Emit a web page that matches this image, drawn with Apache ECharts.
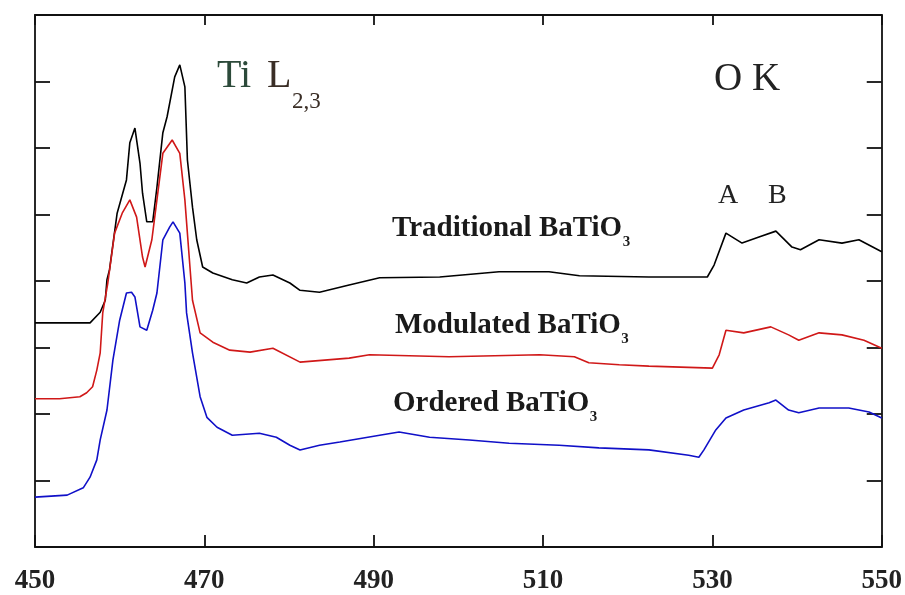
<!DOCTYPE html>
<html>
<head>
<meta charset="utf-8">
<script src="https://cdn.jsdelivr.net/npm/echarts@6/dist/echarts.min.js"></script>
<style>html,body{margin:0;padding:0;background:#fff}#c{width:905px;height:595px}</style>
</head>
<body>
<div id="c"></div>
<script>
// Energy loss (eV) and intensity (arb. units)
var tradX = [450,452.9,456.5,457.7,458.3,458.5,458.8,459.7,460.8,461.2,461.8,462.4,462.7,463.2,463.9,464.4,465.1,465.6,466.5,467.1,467.7,468.0,468.6,469.1,469.8,471.0,473.3,475.0,476.5,478.1,480.1,481.3,483.6,487.1,490.7,497.8,504.8,510.7,514.3,522.5,529.4,530.2,531.6,533.5,535.5,537.5,539.4,540.4,542.6,545.3,547.3,550];
var tradY = [3.37,3.37,3.37,3.53,3.71,4.02,4.17,5.02,5.52,6.08,6.30,5.77,5.32,4.89,4.89,5.41,6.23,6.47,7.07,7.25,6.92,5.82,5.11,4.62,4.21,4.12,4.02,3.97,4.06,4.09,3.97,3.86,3.83,3.94,4.05,4.06,4.14,4.14,4.08,4.06,4.06,4.24,4.72,4.57,4.66,4.75,4.51,4.47,4.62,4.57,4.62,4.44];

var modX = [450,452.9,455.3,456.1,456.8,457.3,457.7,458.0,458.6,459.4,460.3,461.2,462.0,462.7,463.0,463.8,464.4,465.1,466.2,467.1,467.7,468.3,468.6,469.5,471.0,473.0,475.4,478.1,481.3,487.1,489.5,498.9,509.6,513.7,515.4,519.0,522.5,530.0,530.8,531.6,533.7,536.9,539.0,540.2,542.6,545.3,547.9,550];
var modY = [2.23,2.23,2.26,2.32,2.41,2.66,2.92,3.52,3.97,4.72,5.02,5.22,4.96,4.36,4.21,4.62,5.22,5.92,6.12,5.92,5.22,4.21,3.71,3.22,3.08,2.96,2.93,2.99,2.78,2.84,2.89,2.86,2.89,2.86,2.77,2.74,2.72,2.69,2.89,3.26,3.22,3.31,3.19,3.11,3.22,3.19,3.11,2.99];

var ordX = [450,453.8,455.7,456.5,457.3,457.7,458.5,459.2,460.0,460.8,461.4,461.8,462.4,463.2,463.9,464.4,465.1,465.9,466.3,467.1,467.7,467.9,468.6,469.5,470.3,471.5,473.3,476.5,478.5,480.1,481.3,483.6,486.0,490.7,493.0,496.6,501.3,506.0,511.9,516.6,522.5,527.2,528.4,529.0,530.4,531.6,533.7,536.7,537.5,539.0,540.2,542.6,546.1,548.5,550];
var ordY = [0.75,0.78,0.89,1.05,1.31,1.61,2.06,2.81,3.41,3.82,3.83,3.76,3.31,3.26,3.56,3.82,4.62,4.81,4.89,4.72,3.97,3.52,2.92,2.26,1.95,1.80,1.68,1.71,1.65,1.53,1.46,1.53,1.58,1.68,1.73,1.65,1.61,1.56,1.53,1.49,1.46,1.38,1.35,1.46,1.76,1.94,2.06,2.17,2.21,2.06,2.02,2.09,2.09,2.03,1.94];

var xTicks = [450,470,490,510,530,550];

function pairs(xs, ys){ return xs.map(function(x,i){ return [x, ys[i]]; }); }

var serif = '"Liberation Serif","Times New Roman",serif';
var chart = echarts.init(document.getElementById('c'), null, {renderer:'canvas'});

var ctx = document.createElement('canvas').getContext('2d');
function w(text, size, weight){ ctx.font = (weight||'normal') + ' ' + size + 'px ' + serif; return ctx.measureText(text).width; }

// place text so that its capital-letter middle sits at capMid
function txt(x, capMid, text, size, weight, color){
  return {type:'text', left:x, top:Math.round(capMid - 0.45*size),
          style:{text:text, font:(weight||'normal')+' '+size+'px '+serif, fill:color}};
}
function subLabel(x, capMid, main, size, sub, subCapMid, subSize, weight, color){
  var mw = w(main, size, weight);
  return [txt(x, capMid, main, size, weight, color), txt(x+mw+0.5, subCapMid, sub, subSize, weight, color)];
}

var graphics = [];
graphics.push(txt(217, 73.5, 'Ti', 40, 'normal', '#2c4a3a'));
graphics = graphics.concat(subLabel(267, 73.5, 'L', 40, '2,3', 100, 23, 'normal', '#3a2e26'));
graphics.push(txt(714, 77.5, 'O K', 39, 'normal', '#222'));
graphics.push(txt(718, 195, 'A', 28, 'normal', '#222'));
graphics.push(txt(768, 195, 'B', 28, 'normal', '#222'));
graphics = graphics.concat(subLabel(392, 227, 'Traditional BaTiO', 29, '3', 242, 15, 'bold', '#1a1a1a'));
graphics = graphics.concat(subLabel(395, 324, 'Modulated BaTiO', 29, '3', 339, 15, 'bold', '#1a1a1a'));
graphics = graphics.concat(subLabel(393, 402, 'Ordered BaTiO', 29, '3', 417, 15, 'bold', '#1a1a1a'));

var lineSty = {color:'#111', width:1.8};
var axisLine = {show:true, onZero:false, lineStyle:lineSty};
var option = {
  backgroundColor:'#fff',
  animation:false,
  grid:{left:35, right:22, top:15, bottom:48},
  xAxis:[
    {type:'value', min:450, max:550, interval:20, position:'bottom',
     axisLine:axisLine, axisTick:{show:true, inside:true, length:12, lineStyle:lineSty},
     axisLabel:{show:true, margin:21, fontFamily:serif, fontSize:27, fontWeight:'bold', color:'#222',
       formatter:function(v){ return xTicks.indexOf(v) >= 0 ? String(v) : ''; }},
     splitLine:{show:false}},
    {type:'value', min:450, max:550, interval:20, position:'top',
     axisLine:axisLine, axisTick:{show:true, inside:true, length:10, lineStyle:lineSty},
     axisLabel:{show:false}, splitLine:{show:false}}
  ],
  yAxis:[
    {type:'value', min:0, max:8, interval:1, position:'left',
     axisLine:axisLine, axisTick:{show:true, inside:true, length:15, lineStyle:lineSty},
     axisLabel:{show:false}, splitLine:{show:false}},
    {type:'value', min:0, max:8, interval:1, position:'right',
     axisLine:axisLine, axisTick:{show:true, inside:true, length:15, lineStyle:lineSty},
     axisLabel:{show:false}, splitLine:{show:false}}
  ],
  series:[
    {name:'Traditional BaTiO3', type:'line', data:pairs(tradX, tradY), showSymbol:false, lineStyle:{color:'#000', width:1.6}},
    {name:'Modulated BaTiO3', type:'line', data:pairs(modX, modY), showSymbol:false, lineStyle:{color:'#d01818', width:1.6}},
    {name:'Ordered BaTiO3', type:'line', data:pairs(ordX, ordY), showSymbol:false, lineStyle:{color:'#1010c8', width:1.6}}
  ],
  graphic: graphics
};
chart.setOption(option);
</script>
</body>
</html>
